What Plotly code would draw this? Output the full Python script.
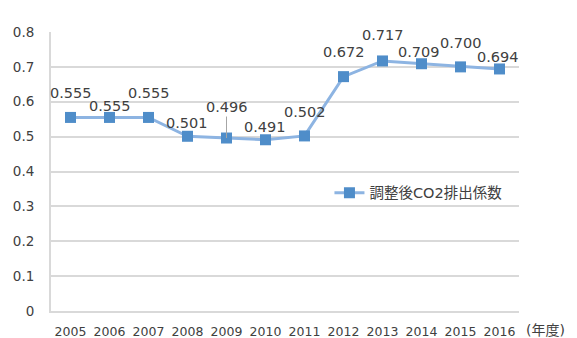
import plotly.graph_objects as go

# Adjusted CO2 emission factor by fiscal year
years = [2005, 2006, 2007, 2008, 2009, 2010,
         2011, 2012, 2013, 2014, 2015, 2016]
factors = [0.555, 0.555, 0.555, 0.501, 0.496, 0.491,
           0.502, 0.672, 0.717, 0.709, 0.700, 0.694]
# per-label offsets (pixels) so the value labels don't collide
label_dy = [24, 11, 24, 13, 31, 13, 24, 25, 26, 12, 24, 12]
label_dx = [0, 0, 0, -1, 0, -1, 0, 0, 0, -3, 0, -2]
y_ticks = [0, 0.1, 0.2, 0.3, 0.4, 0.5, 0.6, 0.7, 0.8]

FONT = "DejaVu Sans, Noto Sans CJK JP, sans-serif"
TEXT = "#404040"
GRID = "#D9D9D9"

fig = go.Figure()
fig.add_trace(go.Scatter(
    x=years, y=factors, mode="lines+markers", name="調整後CO2排出係数",
    line=dict(color="#8DB4E2", width=3),
    marker=dict(symbol="square", size=11, color="#4F8DC9"),
))

for yr, v, dy, dx in zip(years, factors, label_dy, label_dx):
    leader = yr == 2009
    fig.add_annotation(
        x=yr, y=v, text=f"{v:.3f}",
        showarrow=leader, arrowhead=0, arrowwidth=1, arrowcolor="#A6A6A6",
        ax=dx, ay=-dy, standoff=0, startstandoff=0,
        xshift=0 if leader else dx, yshift=0 if leader else dy,
        font=dict(family=FONT, size=14.5, color=TEXT),
    )

fig.add_annotation(
    xref="paper", yref="paper", x=1.057, y=-0.068, text="(年度)",
    showarrow=False, xanchor="center", yanchor="middle",
    font=dict(family=FONT, size=14, color=TEXT),
)

fig.update_layout(
    width=577, height=338,
    margin=dict(l=51, r=58, t=32, b=27, autoexpand=False),
    paper_bgcolor="white", plot_bgcolor="white",
    font=dict(family=FONT, color=TEXT),
    showlegend=True,
    legend=dict(x=0.595, y=0.424, xanchor="left", yanchor="middle",
                bgcolor="rgba(0,0,0,0)",
                font=dict(family=FONT, size=14.5, color=TEXT)),
)
fig.update_xaxes(
    range=[2004.5, 2016.5], tickvals=years, ticktext=[str(y) for y in years],
    showgrid=False, showline=True, linecolor=GRID, linewidth=2, zeroline=False,
    tickfont=dict(family=FONT, size=12.5, color=TEXT), ticks="",
    ticklabelstandoff=8, automargin=False,
)
fig.update_yaxes(
    range=[0, 0.8], tickvals=y_ticks, ticktext=[f"{t:g}" for t in y_ticks],
    showgrid=True, gridcolor=GRID, gridwidth=1.5,
    showline=True, linecolor=GRID, linewidth=2, zeroline=False,
    tickfont=dict(family=FONT, size=13.5, color=TEXT), ticks="",
    ticklabelstandoff=12, automargin=False,
)

fig.write_html("out.html")
